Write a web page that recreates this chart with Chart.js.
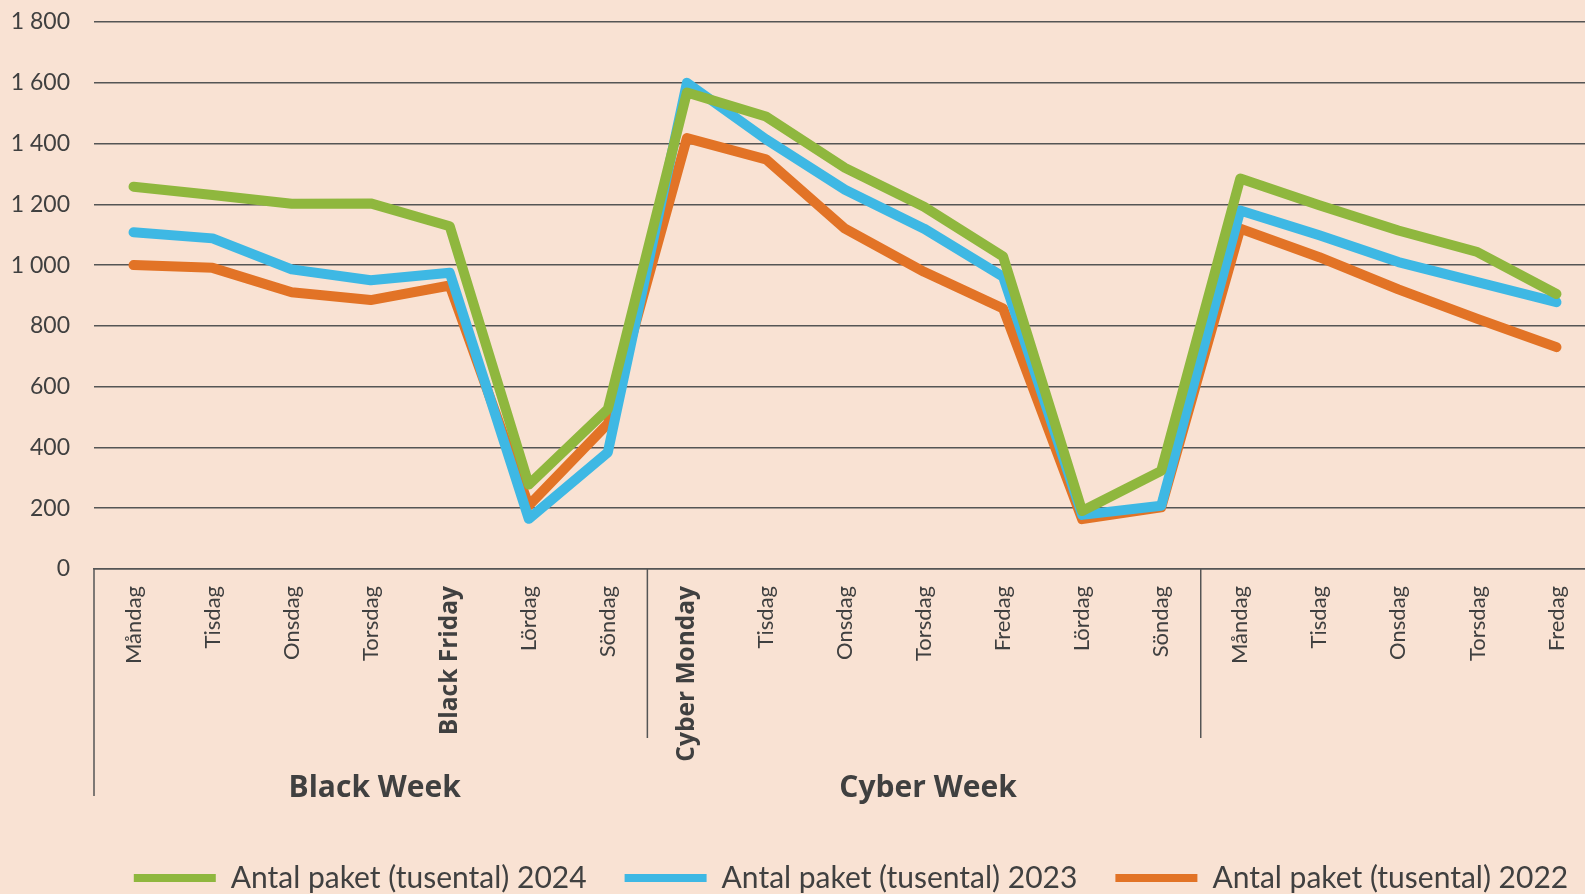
<!DOCTYPE html>
<html lang="sv">
<head>
<meta charset="utf-8">
<title>Antal paket Black Week / Cyber Week</title>
<script src="https://cdn.jsdelivr.net/npm/chart.js@4.4.1/dist/chart.umd.min.js"></script>
<style>
    html, body { margin: 0; padding: 0; background: #f9e2d3; overflow: hidden; }
    #wrap { width: 1596px; height: 894px; position: relative; }
</style>
</head>
<body>
<div id="wrap"><canvas id="paketChart"></canvas></div>
<script>
// Categories (days) and the weeks they belong to
const days = ['Måndag', 'Tisdag', 'Onsdag', 'Torsdag', 'Black Friday', 'Lördag', 'Söndag',
    'Cyber Monday', 'Tisdag', 'Onsdag', 'Torsdag', 'Fredag', 'Lördag', 'Söndag',
    'Måndag', 'Tisdag', 'Onsdag', 'Torsdag', 'Fredag'];
const boldDays = ['Black Friday', 'Cyber Monday'];
const weekLabels = ['Black Week', 'Cyber Week', ''];
const weekStarts = [0, 7, 14];

// Antal paket (tusental)
const paket2024 = [1258, 1231, 1202, 1203, 1128, 278, 526,
    1568, 1489, 1320, 1192, 1028, 191, 323,
    1285, 1197, 1114, 1043, 905];
const paket2023 = [1108, 1088, 986, 950, 975, 165, 384,
    1600, 1414, 1248, 1120, 962, 178, 208,
    1180, 1098, 1010, 944, 878];
const paket2022 = [1000, 991, 911, 885, 933, 209, 478,
    1418, 1348, 1120, 978, 857, 164, 203,
    1120, 1026, 920, 823, 730];

const seriesLabels = ['Antal paket (tusental) 2024', 'Antal paket (tusental) 2023', 'Antal paket (tusental) 2022'];
const seriesColors = ['#8fb73e', '#3eb8e4', '#e27326'];

const yTicks = [0, 200, 400, 600, 800, 1000, 1200, 1400, 1600, 1800];

const textColor = '#404040';
const lineColor = '#555555';
const fontFamily = 'Lato, "Open Sans", sans-serif';
const boldFamily = '"Open Sans", Lato, sans-serif';

// Week separators and week names under the day labels
const weekGroups = {
    id: 'weekGroups',
    afterLayout(chart) {
        // legend sits a bit right of centre in the original
        chart.legend.left += 53;
        chart.legend.right += 53;
    },
    afterDraw(chart) {
        const ctx = chart.ctx;
        const x = chart.scales.x;
        const half = (x.getPixelForValue(1) - x.getPixelForValue(0)) / 2;
        ctx.save();
        ctx.strokeStyle = lineColor;
        ctx.lineWidth = 1.5;
        weekStarts.forEach((start, i) => {
            const left = x.getPixelForValue(start) - half;
            const end = i + 1 < weekStarts.length ? weekStarts[i + 1] : days.length;
            const right = x.getPixelForValue(end - 1) + half;
            ctx.beginPath();
            ctx.moveTo(left, x.top);
            ctx.lineTo(left, i === 0 ? x.top + 227 : x.top + 169);
            ctx.stroke();
            if (weekLabels[i]) {
                ctx.fillStyle = textColor;
                ctx.font = 'bold 30px ' + boldFamily;
                ctx.textAlign = 'center';
                ctx.textBaseline = 'middle';
                ctx.fillText(weekLabels[i], (left + right) / 2 + 4, x.top + 219);
            }
        });
        ctx.restore();
    }
};

new Chart(document.getElementById('paketChart'), {
    type: 'line',
    data: {
        labels: days,
        datasets: [paket2024, paket2023, paket2022].map((values, i) => ({
            label: seriesLabels[i],
            data: values,
            borderColor: seriesColors[i],
            backgroundColor: seriesColors[i],
            borderWidth: 10,
            borderCapStyle: 'round',
            borderJoinStyle: 'round',
            pointRadius: 0,
            tension: 0
        }))
    },
    options: {
        responsive: true,
        maintainAspectRatio: false,
        animation: false,
        layout: { padding: { top: 22, left: 0, right: 0, bottom: -9 } },
        plugins: {
            tooltip: { enabled: false },
            legend: {
                position: 'bottom',
                labels: {
                    color: textColor,
                    font: { family: fontFamily, size: 30 },
                    boxWidth: 82,
                    boxHeight: 8,
                    padding: 38,
                    generateLabels(chart) {
                        const items = Chart.defaults.plugins.legend.labels.generateLabels(chart);
                        items.forEach(item => { item.lineWidth = 0; });
                        return items;
                    }
                }
            }
        },
        scales: {
            x: {
                offset: true,
                grid: { display: false },
                border: { display: true, color: lineColor, width: 1.5 },
                ticks: {
                    color: textColor,
                    minRotation: 90,
                    maxRotation: 90,
                    autoSkip: false,
                    padding: 9,
                    font: (c) => boldDays.includes(days[c.index])
                        ? { family: boldFamily, size: 24.5, weight: 'bold' }
                        : { family: fontFamily, size: 22, weight: 'normal' }
                },
                afterFit(scale) { scale.height = 256; }
            },
            y: {
                min: 0,
                max: 1800,
                afterBuildTicks(scale) { scale.ticks = yTicks.map(v => ({ value: v })); },
                afterFit(scale) { scale.width = 94; },
                grid: { color: lineColor, lineWidth: 1.5, drawTicks: true, tickLength: 21, tickColor: 'rgba(0,0,0,0)' },
                border: { display: false },
                ticks: {
                    color: textColor,
                    padding: 3,
                    font: { family: fontFamily, size: 23 },
                    callback: (v) => v >= 1000 ? Math.floor(v / 1000) + ' ' + String(v % 1000).padStart(3, '0') : String(v)
                }
            }
        }
    },
    plugins: [weekGroups]
});
</script>
</body>
</html>
